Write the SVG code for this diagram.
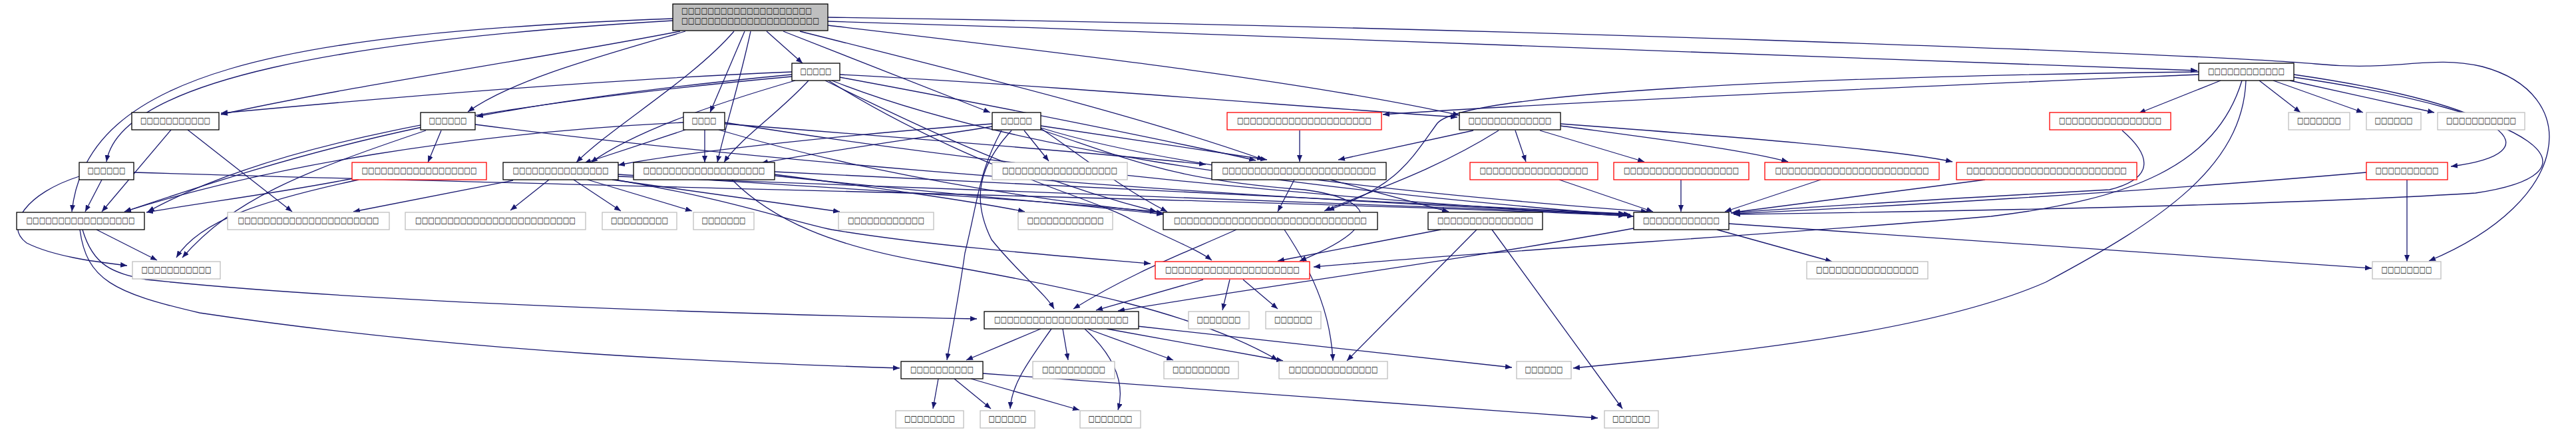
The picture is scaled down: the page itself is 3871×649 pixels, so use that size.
<svg xmlns="http://www.w3.org/2000/svg" width="3871" height="649" viewBox="0 0 3871 649">
<defs>
<style>
.n rect{fill:#fff;stroke:#000;stroke-width:1.3}
.g rect{stroke:#bfbfbf}
.r rect{stroke:#ff0000}
.root rect{fill:#bfbfbf;stroke:#000}
text{font-family:"DejaVu Sans","Liberation Sans",sans-serif;font-size:12px;fill:#000;text-anchor:middle}
.root text{text-anchor:start}
#edges path{fill:none;stroke:#191970;stroke-width:1.3;marker-end:url(#ah)}
</style>
<marker id="ah" markerWidth="10" markerHeight="8" refX="10" refY="4" orient="auto" markerUnits="userSpaceOnUse"><path d="M0,0 L10,4 L0,8 z" fill="#191970"/></marker>
</defs>
<rect width="3871" height="649" fill="#fff"/>
<g id="edges">
<path d="M1011,28 C420,50 130,110 108,318"/>
<path d="M1011,31 C520,60 180,120 160,243"/>
<path d="M1022,47 C800,90 520,130 332,172"/>
<path d="M1030,47 C900,85 770,120 703,168"/>
<path d="M1103,47 C1040,120 920,190 866,244"/>
<path d="M1119,47 L1067,169"/>
<path d="M1128,47 C1110,130 1090,190 1078,244"/>
<path d="M1152,47 L1206,95"/>
<path d="M1177,47 L1488,169"/>
<path d="M1202,47 C1450,110 1700,170 1899,240"/>
<path d="M1244,38 C1600,80 1950,120 2193,173"/>
<path d="M1244,32 C2000,55 2800,85 3302,106"/>
<path d="M1244,26 C2200,40 3300,80 3480,96 C3600,108 3650,82 3730,100 C3880,140 3870,300 3650,392"/>
<path d="M1190,108 C900,120 600,145 332,170"/>
<path d="M1190,112 C1000,130 850,150 716,175"/>
<path d="M1190,115 C700,160 400,220 222,318"/>
<path d="M1195,121 C1060,160 950,200 888,244"/>
<path d="M1215,121 C1170,170 1110,210 1088,244"/>
<path d="M1262,112 C1600,130 1950,160 2190,176"/>
<path d="M1262,116 C1500,160 1750,210 1887,241"/>
<path d="M1240,121 C1400,200 1550,270 1738,318"/>
<path d="M1250,121 C1500,220 1900,280 2442,323"/>
<path d="M1245,121 C1450,250 1650,300 1700,330 C1760,360 1800,375 1821,391"/>
<path d="M1059,195 L1059,244"/>
<path d="M1030,195 L878,245"/>
<path d="M1027,184 C700,200 400,250 187,318"/>
<path d="M1089,184 C1500,250 2000,300 2455,325"/>
<path d="M1089,186 C1400,210 1650,230 1812,247"/>
<path d="M1080,195 C1300,260 1550,300 1748,320"/>
<path d="M1491,186 C1300,200 1050,225 929,248"/>
<path d="M1491,190 C1400,205 1250,225 1144,245"/>
<path d="M1539,196 L1576,242"/>
<path d="M1564,189 L1904,240"/>
<path d="M1564,193 C1620,230 1680,280 1754,318"/>
<path d="M1564,195 C1700,240 1760,270 1960,285 C2070,300 2080,340 1953,392"/>
<path d="M1564,192 C1750,250 2100,290 2476,318"/>
<path d="M1505,196 C1470,260 1470,300 1450,380 C1440,450 1430,500 1423,541"/>
<path d="M1520,196 C1470,250 1460,300 1490,360 C1530,410 1570,440 1584,464"/>
<path d="M663,196 L643,244"/>
<path d="M634,191 C450,230 300,280 187,318"/>
<path d="M640,196 C450,260 350,300 274,387"/>
<path d="M714,187 C1200,250 1900,300 2450,322"/>
<path d="M257,195 L153,318"/>
<path d="M282,195 L439,318"/>
<path d="M153,270 L128,318"/>
<path d="M119,265 C40,290 5,340 40,365 C80,385 140,393 191,399"/>
<path d="M201,259 C900,280 1900,300 2442,324"/>
<path d="M531,268 C420,290 300,305 220,319"/>
<path d="M539,270 C400,300 300,330 265,387"/>
<path d="M771,271 L531,318"/>
<path d="M825,270 L767,316"/>
<path d="M862,270 L933,317"/>
<path d="M883,270 L1040,317"/>
<path d="M920,270 L1262,318"/>
<path d="M925,270 C1100,300 1180,330 1250,345 C1400,370 1600,385 1729,396"/>
<path d="M929,265 C1500,290 2000,305 2442,322"/>
<path d="M929,262 C1300,285 1550,300 1738,318"/>
<path d="M1100,270 C1160,330 1250,370 1400,395 C1600,430 1800,470 1920,541"/>
<path d="M1164,262 C1300,280 1450,300 1540,318"/>
<path d="M1164,258 C1700,285 2100,305 2442,321"/>
<path d="M1164,264 C1400,290 1600,305 1748,322"/>
<path d="M145,345 L236,391"/>
<path d="M124,345 C140,400 170,410 220,420 C500,450 1000,470 1468,479"/>
<path d="M120,345 C130,420 170,440 300,470 C700,530 1100,545 1352,553"/>
<path d="M1858,345 C1780,380 1700,410 1613,464"/>
<path d="M1930,345 C1980,420 2000,480 2003,542"/>
<path d="M2165,345 L1920,392"/>
<path d="M2219,345 L2024,542"/>
<path d="M2242,345 L2438,614"/>
<path d="M2580,345 L2753,393"/>
<path d="M2598,336 L3564,403"/>
<path d="M2455,343 C2200,390 1900,430 1680,467"/>
<path d="M1808,420 L1647,466"/>
<path d="M1848,420 L1837,466"/>
<path d="M1868,420 L1920,464"/>
<path d="M1564,494 L1452,541"/>
<path d="M1580,494 C1540,550 1520,580 1518,614"/>
<path d="M1597,494 L1605,541"/>
<path d="M1630,494 C1680,540 1690,580 1680,616"/>
<path d="M1634,494 L1763,541"/>
<path d="M1663,494 L1928,542"/>
<path d="M1709,490 L2272,552"/>
<path d="M1410,569 L1402,614"/>
<path d="M1434,569 L1489,614"/>
<path d="M1459,569 L1622,616"/>
<path d="M1477,561 L2401,628"/>
<path d="M1953,196 L1953,243"/>
<path d="M2214,196 L2011,240"/>
<path d="M2252,196 C2150,260 2050,290 1990,317"/>
<path d="M2277,196 L2293,243"/>
<path d="M2314,196 L2471,243"/>
<path d="M2345,189 C2500,210 2620,225 2687,243"/>
<path d="M2345,186 C2600,205 2850,225 2934,243"/>
<path d="M1945,270 L1920,318"/>
<path d="M1999,270 L2177,318"/>
<path d="M2343,270 L2484,318"/>
<path d="M2526,270 L2526,318"/>
<path d="M2736,270 L2592,318"/>
<path d="M2983,270 L2605,319"/>
<path d="M3556,259 C3200,290 2800,312 2605,321"/>
<path d="M3617,270 L3617,393"/>
<path d="M3189,196 C3240,240 3230,270 3170,285 C2900,300 2700,312 2601,320"/>
<path d="M3337,121 L3214,170"/>
<path d="M3395,121 L3457,169"/>
<path d="M3416,121 L3551,169"/>
<path d="M3441,121 L3658,169"/>
<path d="M3447,112 C3780,160 3840,230 3683,250"/>
<path d="M3447,116 C3820,170 3920,260 3720,290 C3400,310 2900,318 2605,322"/>
<path d="M3369,121 C3330,250 3200,300 2992,325 C2700,350 2200,380 1974,401"/>
<path d="M3375,121 C3370,250 3250,330 3074,424 C2900,500 2600,530 2364,553"/>
<path d="M3304,112 C3000,125 2400,150 2078,172"/>
<path d="M3304,108 C2700,115 2200,140 2160,185 C2120,240 2100,280 1995,316"/>
</g>
<g id="R" class="n root"><rect x="1011" y="6" width="233" height="40"/><text x="1024" y="20" textLength="196" lengthAdjust="spacingAndGlyphs">□□□□□□□□□□□□□□□□□□□□</text><text x="1024" y="35" textLength="207" lengthAdjust="spacingAndGlyphs">□□□□□□□□□□□□□□□□□□□□□</text></g>
<g id="A" class="n"><rect x="1190" y="95" width="72" height="26"/><text x="1226" y="111" textLength="47" lengthAdjust="spacingAndGlyphs">□□□□□</text></g>
<g id="B" class="n"><rect x="3304" y="95" width="143" height="26"/><text x="3375.5" y="111" textLength="115" lengthAdjust="spacingAndGlyphs">□□□□□□□□□□□□</text></g>
<g id="C1" class="n"><rect x="198" y="169" width="131" height="26"/><text x="263.5" y="185" textLength="105" lengthAdjust="spacingAndGlyphs">□□□□□□□□□□□</text></g>
<g id="C2" class="n"><rect x="632" y="169" width="82" height="26"/><text x="673" y="185" textLength="57" lengthAdjust="spacingAndGlyphs">□□□□□□</text></g>
<g id="C3" class="n"><rect x="1027" y="169" width="62" height="26"/><text x="1058" y="185" textLength="37" lengthAdjust="spacingAndGlyphs">□□□□</text></g>
<g id="C4" class="n"><rect x="1491" y="169" width="73" height="26"/><text x="1527.5" y="185" textLength="47" lengthAdjust="spacingAndGlyphs">□□□□□</text></g>
<g id="C5" class="n r"><rect x="1844" y="169" width="232" height="26"/><text x="1960" y="185" textLength="202" lengthAdjust="spacingAndGlyphs">□□□□□□□□□□□□□□□□□□□□□</text></g>
<g id="C6" class="n"><rect x="2193" y="169" width="152" height="26"/><text x="2269" y="185" textLength="125" lengthAdjust="spacingAndGlyphs">□□□□□□□□□□□□□</text></g>
<g id="C7" class="n r"><rect x="3080" y="169" width="182" height="26"/><text x="3171" y="185" textLength="154" lengthAdjust="spacingAndGlyphs">□□□□□□□□□□□□□□□□</text></g>
<g id="C8" class="n g"><rect x="3439" y="169" width="92" height="26"/><text x="3485" y="185" textLength="66" lengthAdjust="spacingAndGlyphs">□□□□□□□</text></g>
<g id="C9" class="n g"><rect x="3556" y="169" width="82" height="26"/><text x="3597" y="185" textLength="57" lengthAdjust="spacingAndGlyphs">□□□□□□</text></g>
<g id="C10" class="n g"><rect x="3663" y="169" width="131" height="26"/><text x="3728.5" y="185" textLength="105" lengthAdjust="spacingAndGlyphs">□□□□□□□□□□□</text></g>
<g id="D1" class="n"><rect x="119" y="244" width="82" height="26"/><text x="160" y="260" textLength="57" lengthAdjust="spacingAndGlyphs">□□□□□□</text></g>
<g id="D2" class="n r"><rect x="529" y="244" width="202" height="26"/><text x="630" y="260" textLength="173" lengthAdjust="spacingAndGlyphs">□□□□□□□□□□□□□□□□□□</text></g>
<g id="D3" class="n"><rect x="756" y="244" width="173" height="26"/><text x="842.5" y="260" textLength="144" lengthAdjust="spacingAndGlyphs">□□□□□□□□□□□□□□□</text></g>
<g id="D4" class="n"><rect x="952" y="244" width="212" height="26"/><text x="1058" y="260" textLength="183" lengthAdjust="spacingAndGlyphs">□□□□□□□□□□□□□□□□□□□</text></g>
<g id="D5" class="n g"><rect x="1491" y="244" width="203" height="26"/><text x="1592.5" y="260" textLength="173" lengthAdjust="spacingAndGlyphs">□□□□□□□□□□□□□□□□□□</text></g>
<g id="D6" class="n"><rect x="1821" y="244" width="262" height="26"/><text x="1952" y="260" textLength="231" lengthAdjust="spacingAndGlyphs">□□□□□□□□□□□□□□□□□□□□□□□□</text></g>
<g id="D7" class="n r"><rect x="2209" y="244" width="192" height="26"/><text x="2305" y="260" textLength="163" lengthAdjust="spacingAndGlyphs">□□□□□□□□□□□□□□□□□</text></g>
<g id="D8" class="n r"><rect x="2425" y="244" width="203" height="26"/><text x="2526.5" y="260" textLength="173" lengthAdjust="spacingAndGlyphs">□□□□□□□□□□□□□□□□□□</text></g>
<g id="D9" class="n r"><rect x="2652" y="244" width="262" height="26"/><text x="2783" y="260" textLength="231" lengthAdjust="spacingAndGlyphs">□□□□□□□□□□□□□□□□□□□□□□□□</text></g>
<g id="D10" class="n r"><rect x="2940" y="244" width="271" height="26"/><text x="3075.5" y="260" textLength="241" lengthAdjust="spacingAndGlyphs">□□□□□□□□□□□□□□□□□□□□□□□□□</text></g>
<g id="D11" class="n r"><rect x="3556" y="244" width="122" height="26"/><text x="3617" y="260" textLength="95" lengthAdjust="spacingAndGlyphs">□□□□□□□□□□</text></g>
<g id="E1" class="n"><rect x="25" y="319" width="192" height="26"/><text x="121" y="335" textLength="163" lengthAdjust="spacingAndGlyphs">□□□□□□□□□□□□□□□□□</text></g>
<g id="E2" class="n g"><rect x="342" y="319" width="243" height="26"/><text x="463.5" y="335" textLength="212" lengthAdjust="spacingAndGlyphs">□□□□□□□□□□□□□□□□□□□□□□</text></g>
<g id="E3" class="n g"><rect x="609" y="319" width="271" height="26"/><text x="744.5" y="335" textLength="241" lengthAdjust="spacingAndGlyphs">□□□□□□□□□□□□□□□□□□□□□□□□□</text></g>
<g id="E4" class="n g"><rect x="905" y="319" width="112" height="26"/><text x="961" y="335" textLength="86" lengthAdjust="spacingAndGlyphs">□□□□□□□□□</text></g>
<g id="E5" class="n g"><rect x="1042" y="319" width="91" height="26"/><text x="1087.5" y="335" textLength="66" lengthAdjust="spacingAndGlyphs">□□□□□□□</text></g>
<g id="E6" class="n g"><rect x="1260" y="319" width="143" height="26"/><text x="1331.5" y="335" textLength="115" lengthAdjust="spacingAndGlyphs">□□□□□□□□□□□□</text></g>
<g id="E7" class="n g"><rect x="1530" y="319" width="142" height="26"/><text x="1601" y="335" textLength="115" lengthAdjust="spacingAndGlyphs">□□□□□□□□□□□□</text></g>
<g id="E8" class="n"><rect x="1748" y="319" width="322" height="26"/><text x="1909" y="335" textLength="290" lengthAdjust="spacingAndGlyphs">□□□□□□□□□□□□□□□□□□□□□□□□□□□□□□</text></g>
<g id="E9" class="n"><rect x="2146" y="319" width="172" height="26"/><text x="2232" y="335" textLength="144" lengthAdjust="spacingAndGlyphs">□□□□□□□□□□□□□□□</text></g>
<g id="E10" class="n"><rect x="2455" y="319" width="143" height="26"/><text x="2526.5" y="335" textLength="115" lengthAdjust="spacingAndGlyphs">□□□□□□□□□□□□</text></g>
<g id="F1" class="n g"><rect x="199" y="393" width="132" height="26"/><text x="265" y="409" textLength="105" lengthAdjust="spacingAndGlyphs">□□□□□□□□□□□</text></g>
<g id="F2" class="n r"><rect x="1736" y="393" width="232" height="26"/><text x="1852" y="409" textLength="202" lengthAdjust="spacingAndGlyphs">□□□□□□□□□□□□□□□□□□□□□</text></g>
<g id="F3" class="n g"><rect x="2715" y="393" width="182" height="26"/><text x="2806" y="409" textLength="154" lengthAdjust="spacingAndGlyphs">□□□□□□□□□□□□□□□□</text></g>
<g id="F4" class="n g"><rect x="3565" y="393" width="103" height="26"/><text x="3616.5" y="409" textLength="76" lengthAdjust="spacingAndGlyphs">□□□□□□□□</text></g>
<g id="G1" class="n"><rect x="1479" y="468" width="232" height="26"/><text x="1595" y="484" textLength="202" lengthAdjust="spacingAndGlyphs">□□□□□□□□□□□□□□□□□□□□□</text></g>
<g id="G2" class="n g"><rect x="1786" y="468" width="91" height="26"/><text x="1831.5" y="484" textLength="66" lengthAdjust="spacingAndGlyphs">□□□□□□□</text></g>
<g id="G3" class="n g"><rect x="1902" y="468" width="83" height="26"/><text x="1943.5" y="484" textLength="57" lengthAdjust="spacingAndGlyphs">□□□□□□</text></g>
<g id="H1" class="n"><rect x="1354" y="543" width="123" height="26"/><text x="1415.5" y="559" textLength="95" lengthAdjust="spacingAndGlyphs">□□□□□□□□□□</text></g>
<g id="H2" class="n g"><rect x="1552" y="543" width="123" height="26"/><text x="1613.5" y="559" textLength="95" lengthAdjust="spacingAndGlyphs">□□□□□□□□□□</text></g>
<g id="H3" class="n g"><rect x="1749" y="543" width="112" height="26"/><text x="1805" y="559" textLength="86" lengthAdjust="spacingAndGlyphs">□□□□□□□□□</text></g>
<g id="H4" class="n g"><rect x="1922" y="543" width="163" height="26"/><text x="2003.5" y="559" textLength="134" lengthAdjust="spacingAndGlyphs">□□□□□□□□□□□□□□</text></g>
<g id="H5" class="n g"><rect x="2279" y="543" width="82" height="26"/><text x="2320" y="559" textLength="57" lengthAdjust="spacingAndGlyphs">□□□□□□</text></g>
<g id="I1" class="n g"><rect x="1346" y="617" width="102" height="26"/><text x="1397" y="633" textLength="76" lengthAdjust="spacingAndGlyphs">□□□□□□□□</text></g>
<g id="I2" class="n g"><rect x="1473" y="617" width="82" height="26"/><text x="1514" y="633" textLength="57" lengthAdjust="spacingAndGlyphs">□□□□□□</text></g>
<g id="I3" class="n g"><rect x="1623" y="617" width="91" height="26"/><text x="1668.5" y="633" textLength="66" lengthAdjust="spacingAndGlyphs">□□□□□□□</text></g>
<g id="I4" class="n g"><rect x="2411" y="617" width="81" height="26"/><text x="2451.5" y="633" textLength="57" lengthAdjust="spacingAndGlyphs">□□□□□□</text></g>
</svg>
